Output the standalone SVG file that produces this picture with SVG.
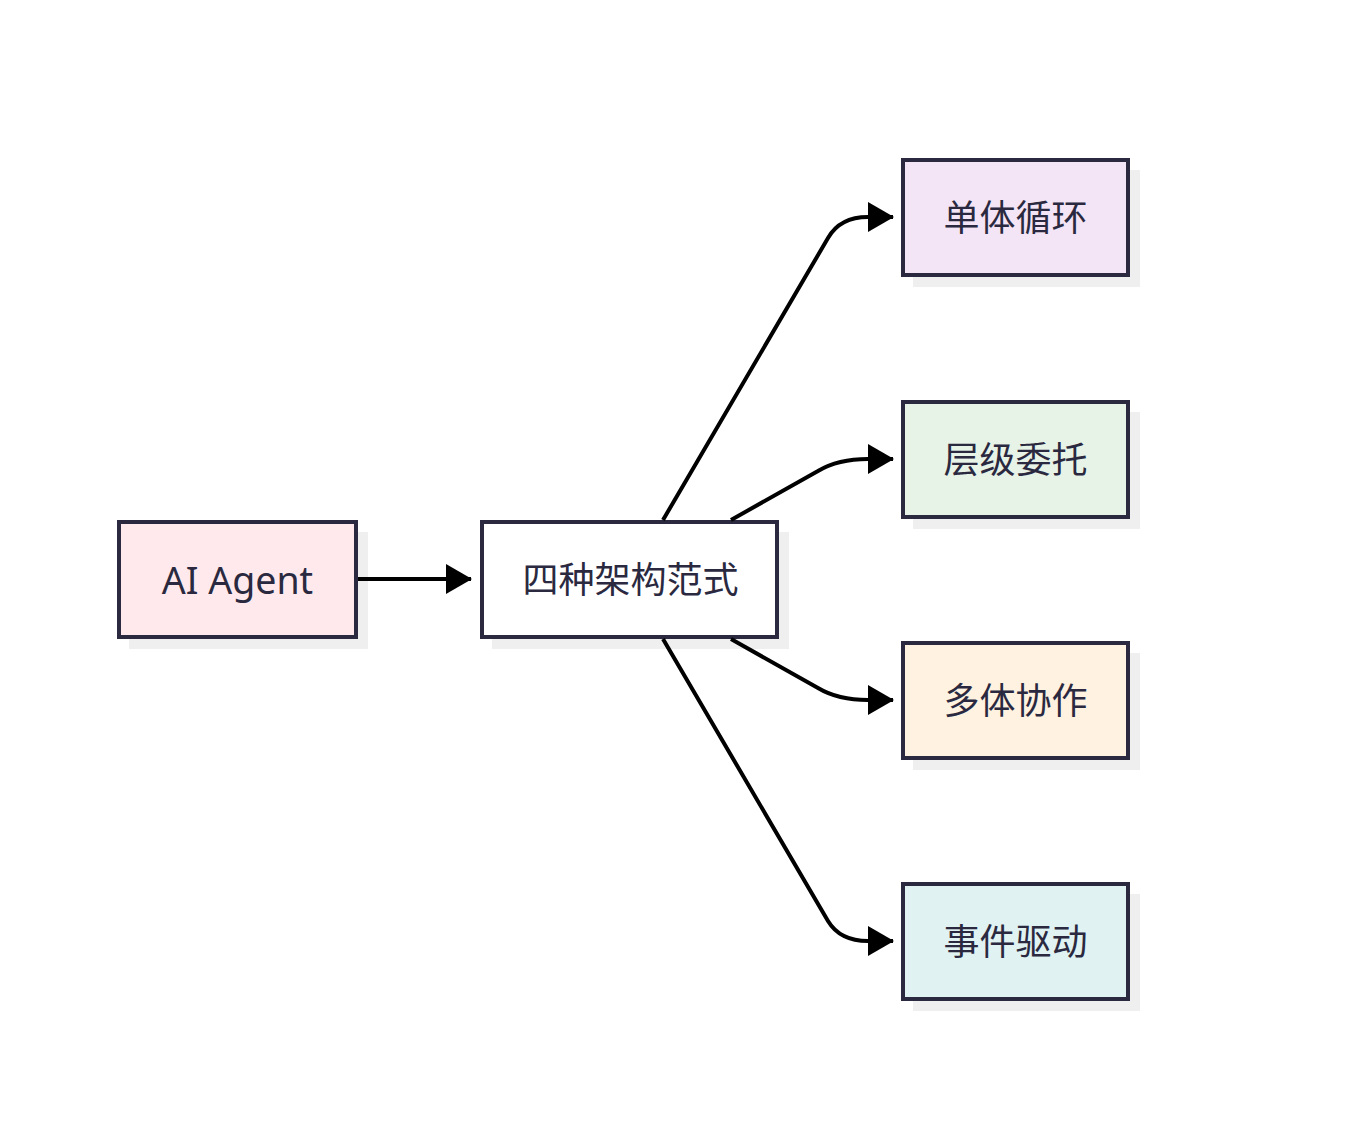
<svg xmlns="http://www.w3.org/2000/svg" width="1352" height="1130" viewBox="0 0 1352 1130">
<style>
.box{stroke:#2a2940;stroke-width:4}
.shadow{fill:#efefef}
.lbl{font-family:"Noto Sans","Noto Sans CJK SC",sans-serif;font-size:36px;fill:#2a2940;text-anchor:middle;dominant-baseline:central}
.edge{fill:none;stroke:#000;stroke-width:4}
</style>
<defs>
<marker id="arr" markerUnits="userSpaceOnUse" markerWidth="26" markerHeight="30" refX="25" refY="15" orient="auto">
<path d="M0,0 L26,15 L0,30 Z" fill="#000"/>
</marker>
</defs>
<rect width="1352" height="1130" fill="#fff"/>
<g id="node-agent">
<rect class="shadow" x="129" y="532" width="239" height="117"/>
<rect class="box" x="119" y="522" width="237" height="115" fill="#ffe9ec"/>
<text class="lbl" x="237.5" y="579" style="font-size:37.5px">AI Agent</text>
</g>
<g id="node-center">
<rect class="shadow" x="492" y="532" width="297" height="117"/>
<rect class="box" x="482" y="522" width="295" height="115" fill="#ffffff"/>
<text class="lbl" x="630.5" y="579">四种架构范式</text>
</g>
<g id="node-single">
<rect class="shadow" x="913" y="170" width="227" height="117"/>
<rect class="box" x="903" y="160" width="225" height="115" fill="#f3e5f5"/>
<text class="lbl" x="1015.5" y="217">单体循环</text>
</g>
<g id="node-hier">
<rect class="shadow" x="913" y="412" width="227" height="117"/>
<rect class="box" x="903" y="402" width="225" height="115" fill="#e8f3e8"/>
<text class="lbl" x="1015.5" y="459">层级委托</text>
</g>
<g id="node-multi">
<rect class="shadow" x="913" y="653" width="227" height="117"/>
<rect class="box" x="903" y="643" width="225" height="115" fill="#fff2e0"/>
<text class="lbl" x="1015.5" y="700">多体协作</text>
</g>
<g id="node-event">
<rect class="shadow" x="913" y="894" width="227" height="117"/>
<rect class="box" x="903" y="884" width="225" height="115" fill="#e0f2f1"/>
<text class="lbl" x="1015.5" y="941">事件驱动</text>
</g>
<g id="connectors">
<path class="edge" d="M358,579 L471,579" marker-end="url(#arr)"/>
<path class="edge" d="M663,520 L828,238 Q840,217 868,217 L893,217" marker-end="url(#arr)"/>
<path class="edge" d="M731,520 L818,471 Q838,459 868,459 L893,459" marker-end="url(#arr)"/>
<path class="edge" d="M731,639 L818,688 Q838,700 868,700 L893,700" marker-end="url(#arr)"/>
<path class="edge" d="M663,639 L828,921 Q840,941 868,941 L893,941" marker-end="url(#arr)"/>
</g>
</svg>
